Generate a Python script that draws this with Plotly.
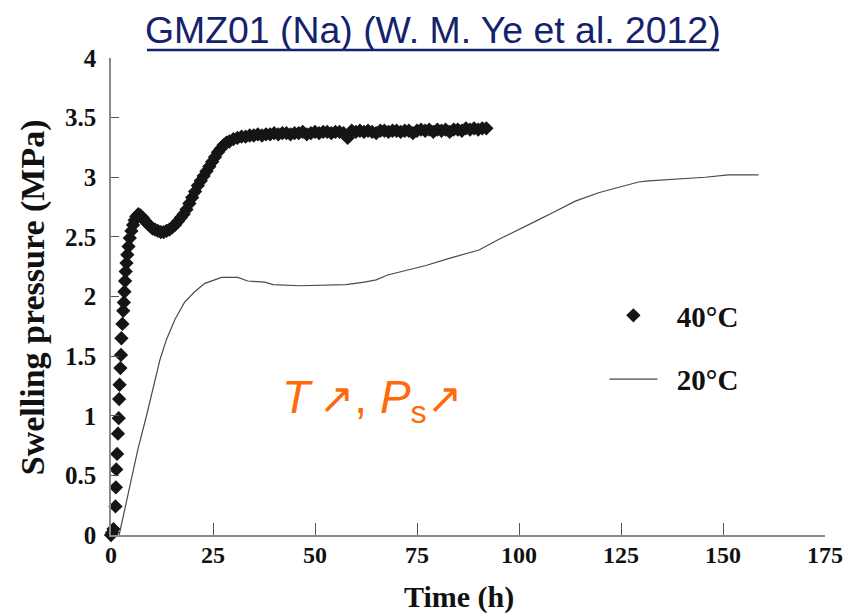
import plotly.graph_objects as go

# ---------------- data ----------------
t40 = [0, 0.3, 0.6, 1.1, 1.2, 1.3, 1.5, 1.7, 1.9, 2.0, 2.1, 2.3, 2.45, 2.55, 2.8, 3.0,
       3.15, 3.3, 3.45, 3.6, 3.8, 4.0, 4.3, 4.6, 5.0, 5.4, 5.8, 6.2, 6.7, 7.2, 7.8, 8.4,
       9.0, 9.6, 10.2, 10.8, 11.5, 12.2, 12.9, 13.6, 14.3, 15.0, 15.7, 16.4, 17.1, 17.8,
       18.5, 19.2, 19.9, 20.6, 21.3, 22.0, 22.7, 23.4, 24.1, 24.8, 25.5, 26.2, 26.9, 27.6,
       28.3, 29.0, 30, 31, 32, 33, 34, 35, 36, 37, 38, 39, 40, 41, 42, 43, 44, 45, 46, 47,
       48, 49, 50, 51, 52, 53, 54, 55, 56, 57, 58, 59, 60, 61, 62, 63, 64, 65, 66, 67, 68,
       69, 70, 71, 72, 73, 74, 75, 76, 77, 78, 79, 80, 81, 82, 83, 84, 85, 86, 87, 88, 89,
       90, 91, 92]
p40 = [0.0, 0.02, 0.05, 0.24, 0.40, 0.55, 0.68, 0.85, 0.98, 1.14, 1.26, 1.40, 1.51, 1.65,
       1.77, 1.88, 1.95, 2.04, 2.13, 2.21, 2.28, 2.35, 2.42, 2.49, 2.55, 2.60, 2.64, 2.67,
       2.69, 2.68, 2.66, 2.63, 2.61, 2.59, 2.57, 2.56, 2.55, 2.54, 2.54, 2.55, 2.56, 2.58,
       2.60, 2.63, 2.66, 2.69, 2.73, 2.78, 2.83, 2.88, 2.93, 2.97, 3.01, 3.05, 3.09, 3.13,
       3.17, 3.21, 3.24, 3.27, 3.29, 3.30, 3.32, 3.33, 3.34, 3.34, 3.35, 3.35, 3.36, 3.35,
       3.36, 3.36, 3.37, 3.36, 3.37, 3.37, 3.36, 3.37, 3.37, 3.38, 3.36, 3.37, 3.38, 3.37,
       3.38, 3.38, 3.37, 3.38, 3.38, 3.37, 3.33, 3.39, 3.38, 3.39, 3.38, 3.39, 3.38, 3.37,
       3.39, 3.39, 3.38, 3.39, 3.39, 3.38, 3.39, 3.39, 3.37, 3.39, 3.40, 3.39, 3.40, 3.38,
       3.40, 3.39, 3.40, 3.38, 3.40, 3.40, 3.39, 3.41, 3.40, 3.41, 3.40, 3.41, 3.41]

t20 = [2.0, 4.7, 6.6, 8.7, 10.7, 12.0, 13.6, 15.7, 18.0, 20.5, 23.0, 25.4, 27.1, 31.1,
       33.5, 37.7, 39.7, 46.2, 57.6, 62.1, 65.0, 67.8, 73.5, 77.2, 82.9, 90.2, 95.1, 100.0,
       104.0, 108.1, 113.8, 119.5, 123.6, 129.3, 131.8, 136.7, 145.6, 151.3, 158.7]
p20 = [0.0, 0.44, 0.72, 1.00, 1.30, 1.47, 1.64, 1.81, 1.95, 2.04, 2.11, 2.14, 2.16, 2.16,
       2.13, 2.12, 2.10, 2.09, 2.10, 2.12, 2.14, 2.18, 2.23, 2.26, 2.32, 2.39, 2.48, 2.56,
       2.63, 2.70, 2.80, 2.87, 2.91, 2.96, 2.97, 2.98, 3.00, 3.02, 3.02]

x_ticks = [0, 25, 50, 75, 100, 125, 150, 175]
y_ticks = [0, 0.5, 1, 1.5, 2, 2.5, 3, 3.5, 4]
y_tick_labels = ["0", "0.5", "1", "1.5", "2", "2.5", "3", "3.5", "4"]

series_names = ["\u00a0\u00a040°C", "\u00a0\u00a020°C"]
title_text = "GMZ01 (Na) (W. M. Ye et al. 2012)"
x_title = "Time (h)"
y_title = "Swelling pressure (MPa)"
note_text = ("<i>T</i>\u2009<span style='font-size:42px'>↗</span>, "
             "<i>P</i><sub>s</sub><span style='font-size:42px'>↗</span>")

SERIF = "Liberation Serif, Times New Roman, serif"
SANS = "Liberation Sans, Arial, sans-serif"
AXIS_GREY = "#8a8a8a"
NAVY = "#14226e"

fig = go.Figure()
fig.add_trace(go.Scatter(
    x=t40, y=p40, mode="markers", name=series_names[0], legendgroup="a",
    marker=dict(symbol="diamond", size=11, color="#151515", line=dict(width=0)),
    cliponaxis=False,
))
fig.add_trace(go.Scatter(
    x=t20, y=p20, mode="lines", name=series_names[1], legendgroup="b",
    line=dict(color="#4a4a4a", width=1.2),
))

fig.update_layout(
    width=844, height=613,
    margin=dict(l=111, r=19, t=58, b=78, autoexpand=False),
    paper_bgcolor="white", plot_bgcolor="white",
    showlegend=True,
    legend=dict(
        x=0.691, y=0.5136, xanchor="left", yanchor="top",
        font=dict(family=SERIF, size=29, color="#111", weight=700),
        itemwidth=48, tracegroupgap=23, bgcolor="rgba(0,0,0,0)",
        traceorder="grouped",
    ),
    xaxis=dict(
        range=[0, 175], tickvals=x_ticks, ticks="inside", ticklen=12, tickwidth=1,
        tickcolor="#555", showline=True, linecolor=AXIS_GREY, linewidth=1.5,
        showgrid=False, zeroline=False, ticklabelstandoff=-3, automargin=False,
        ticklabeloverflow="allow",
        tickfont=dict(family=SERIF, size=24, color="#111", weight=700),
    ),
    yaxis=dict(
        range=[0, 4], tickvals=y_ticks, ticktext=y_tick_labels, ticks="inside",
        ticklen=8, tickwidth=1, tickcolor="#555", showline=True, linecolor=AXIS_GREY,
        linewidth=1.5, showgrid=False, zeroline=False, ticklabelstandoff=8,
        automargin=False, ticklabeloverflow="allow",
        tickfont=dict(family=SERIF, size=25, color="#111", weight=700),
    ),
    shapes=[
        dict(type="line", xref="paper", yref="paper", x0=0.0503, x1=0.8518,
             y0=1.0168, y1=1.0168, line=dict(color=NAVY, width=2.5)),
    ],
    annotations=[
        dict(text=title_text, xref="paper", yref="paper", x=0.4510, y=1.0577,
             xanchor="center", yanchor="middle", showarrow=False,
             font=dict(family=SANS, size=37.4, color=NAVY)),
        dict(text=x_title, xref="paper", yref="paper", x=0.4880, y=-0.130,
             xanchor="center", yanchor="middle", showarrow=False,
             font=dict(family=SERIF, size=30, color="#111", weight=700)),
        dict(text=y_title, xref="paper", yref="paper", x=-0.1089, y=0.499,
             xanchor="center", yanchor="middle", showarrow=False, textangle=-90,
             font=dict(family=SERIF, size=34, color="#111", weight=700)),
        dict(text=note_text, xref="x", yref="y", x=64.0, y=1.13,
             xanchor="center", yanchor="middle", showarrow=False,
             font=dict(family=SANS, size=46, color="#ff6a0a")),
    ],
)

fig.write_html(
    "out.html",
    config={"displayModeBar": False},
    post_script="document.body.style.margin='0';document.body.style.overflow='hidden';",
)
